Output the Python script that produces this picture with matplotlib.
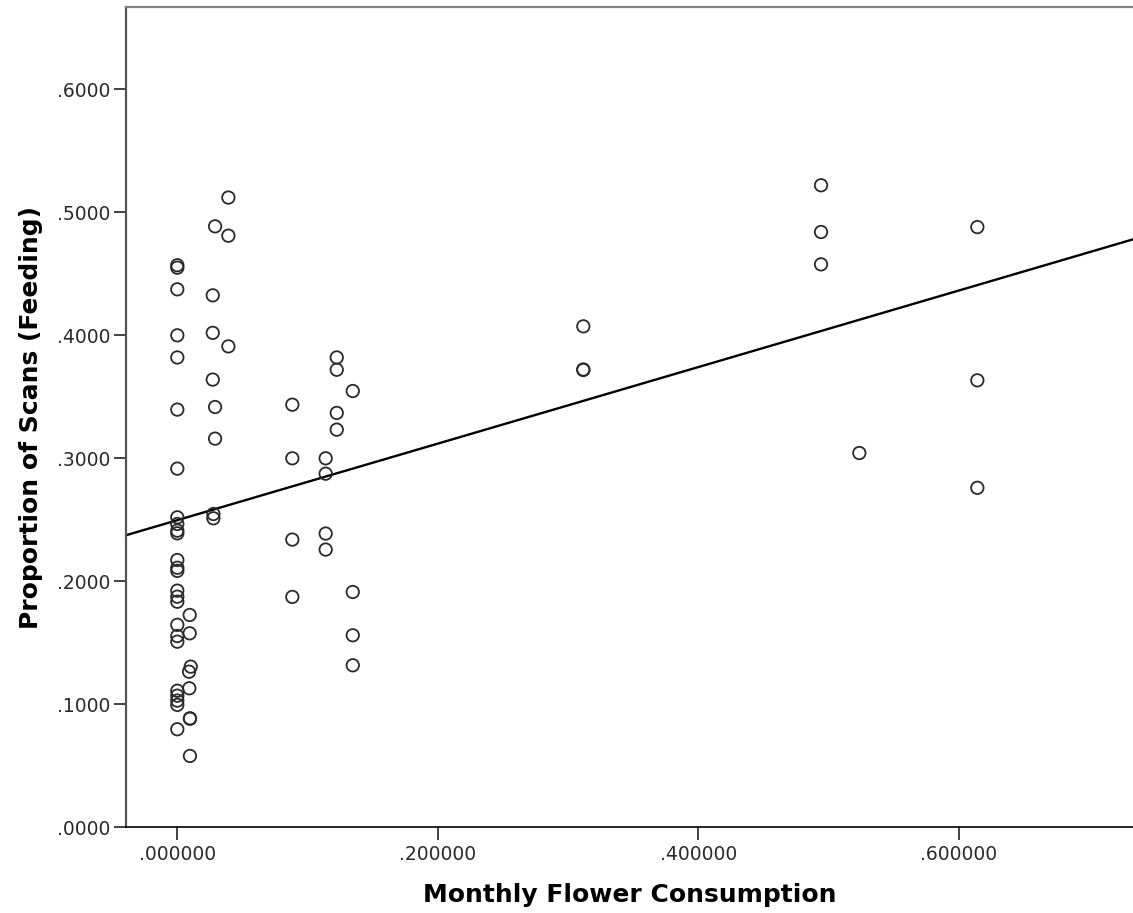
import matplotlib.pyplot as plt
import numpy as np

# monthly flower consumption (x) and proportion of scans feeding (y)
flower = [
    0.0, 0.0, 0.0, 0.0, 0.0, 0.0, 0.0, 0.0, 0.0, 0.0,
    0.0, 0.0, 0.0, 0.0, 0.0, 0.0, 0.0, 0.0, 0.0, 0.0,
    0.0, 0.0, 0.0, 0.0, 0.0,
    0.0095, 0.0095, 0.0103, 0.0090, 0.0092, 0.0097, 0.0097, 0.0097,
    0.029, 0.0272, 0.0272, 0.0272, 0.029, 0.029, 0.0277, 0.0277,
    0.0392, 0.0392, 0.0392,
    0.0883, 0.0883, 0.0883, 0.0883,
    0.1139, 0.1139, 0.1139, 0.1139,
    0.1224, 0.1224, 0.1224, 0.1224,
    0.1347, 0.1347, 0.1347, 0.1347,
    0.3117, 0.3117, 0.3117,
    0.4942, 0.4942, 0.4942,
    0.5236,
    0.6142, 0.6142, 0.6142,
]
feeding = [
    0.4570, 0.4550, 0.4374, 0.4000, 0.3820, 0.3396, 0.2916, 0.2520, 0.2466, 0.2412,
    0.2390, 0.2173, 0.2110, 0.2085, 0.1924, 0.1875, 0.1834, 0.1646, 0.1555, 0.1509,
    0.1110, 0.1070, 0.1030, 0.0995, 0.0797,
    0.1726, 0.1577, 0.1306, 0.1265, 0.1130, 0.0886, 0.0882, 0.0580,
    0.4886, 0.4325, 0.4020, 0.3640, 0.3417, 0.3160, 0.2547, 0.2512,
    0.5120, 0.4810, 0.3910,
    0.3436, 0.3000, 0.2339, 0.1873,
    0.3000, 0.2875, 0.2388, 0.2258,
    0.3820, 0.3720, 0.3369, 0.3233,
    0.3547, 0.1913, 0.1561, 0.1317,
    0.4073, 0.3722, 0.3718,
    0.5220, 0.4840, 0.4577,
    0.3043,
    0.4880, 0.3634, 0.2760,
]

# fit line as drawn on the chart
fit_intercept = 0.2497
fit_slope = 0.3112

x_ticks = [0.0, 0.2, 0.4, 0.6]
y_ticks = [0.0, 0.1, 0.2, 0.3, 0.4, 0.5, 0.6]

fig = plt.figure(figsize=(11.33, 9.13), dpi=100)
ax = fig.add_axes([0.1112, 0.0939, 0.8888, 0.8981])

ax.scatter(flower, feeding, s=80, facecolors="none", edgecolors="#2a2a2a",
           linewidths=1.3, zorder=3)

xlim = (-0.0394, 0.7337)
xs = np.array(xlim)
ax.plot(xs, fit_intercept + fit_slope * xs, color="black", linewidth=1.7, zorder=2)

ax.set_xlim(*xlim)
ax.set_ylim(0, 0.6667)

ax.set_xticks(x_ticks)
ax.set_xticklabels([f"{v:.6f}".lstrip("0") for v in x_ticks])
ax.set_yticks(y_ticks)
ax.set_yticklabels([f"{v:.4f}".lstrip("0") for v in y_ticks])

ax.tick_params(axis="both", direction="out", length=9, width=1.3,
               labelsize=13.5, labelcolor="#2a2a2a", color="#333333")
ax.tick_params(axis="x", pad=3.5)
ax.tick_params(axis="y", pad=2)

ax.spines["right"].set_visible(False)
ax.spines["top"].set_color("#808080")
ax.spines["top"].set_linewidth(1.6)
ax.spines["left"].set_color("#555555")
ax.spines["left"].set_linewidth(1.6)
ax.spines["bottom"].set_color("black")
ax.spines["bottom"].set_linewidth(1.2)

ax.set_xlabel("Monthly Flower Consumption", fontsize=18, fontweight="bold",
              labelpad=14)
ax.set_ylabel("Proportion of Scans (Feeding)", fontsize=18, fontweight="bold",
              labelpad=10)

fig.savefig("out.png", dpi=100)
